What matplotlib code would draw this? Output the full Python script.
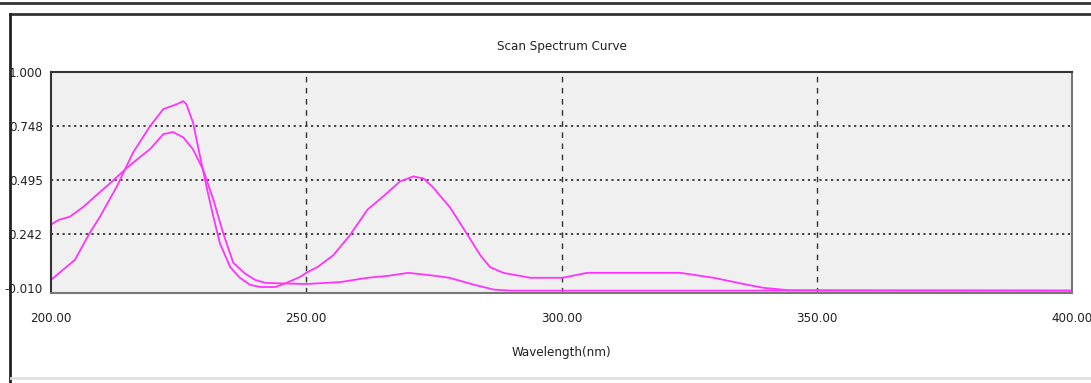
import matplotlib.pyplot as plt
from matplotlib.lines import Line2D

# scan A: broad band near 223 nm, low tail
wl_a = [200, 201.5, 203.7, 206.3, 209.6, 212, 214.5, 217, 219.4, 222, 223.9,
        225.9, 227.8, 229.8, 231.8, 233.7, 235.7, 238, 240, 242, 245, 250,
        256.7, 262, 266, 270, 275, 278, 282.5, 286.7, 290, 400]
abs_a = [0.288, 0.31, 0.325, 0.37, 0.44, 0.49, 0.545, 0.595, 0.64, 0.71, 0.72,
         0.695, 0.64, 0.545, 0.405, 0.25, 0.11, 0.06, 0.03, 0.016, 0.014, 0.011,
         0.02, 0.04, 0.049, 0.063, 0.05, 0.04, 0.01, -0.015, -0.02, -0.02]

# scan B: sharp band near 226 nm, second band near 271 nm
wl_b = [200, 202, 204.7, 207.6, 209.6, 212.9, 216.1, 219.4, 222, 224.7, 225.9,
        226.5, 227.8, 229.2, 230.6, 231.8, 233.1, 235.1, 237, 239, 241, 244,
        246, 248.8, 250, 252.2, 255.3, 258.6, 262, 265.1, 268.4, 271, 273,
        274.9, 278.2, 281.6, 284.1, 286, 288.6, 293.9, 300.2, 305, 323.3,
        329.8, 336.5, 339.6, 344.5, 400]
abs_b = [0.03, 0.07, 0.124, 0.25, 0.325, 0.466, 0.625, 0.747, 0.827, 0.85, 0.864,
         0.85, 0.766, 0.606, 0.45, 0.325, 0.2, 0.09, 0.04, 0.007, -0.003, -0.003,
         0.015, 0.044, 0.063, 0.09, 0.145, 0.24, 0.358, 0.42, 0.49, 0.513, 0.503,
         0.46, 0.367, 0.24, 0.145, 0.09, 0.063, 0.04, 0.04, 0.063, 0.063,
         0.04, 0.007, -0.007, -0.018, -0.02]

yticks = [1.000, 0.748, 0.495, 0.242, -0.010]
xticks = [200, 250, 300, 350, 400]

plt.rcParams['font.family'] = ['DejaVu Sans']
plt.rcParams['font.stretch'] = 'condensed'
fs = 9.5

fig = plt.figure(figsize=(10.91, 3.83), dpi=100)
ax = fig.add_axes([51/1091, 1 - 293/383, 1021/1091, 221/383])
ax.set_facecolor('#f0f0f0')

ax.plot(wl_a, abs_a, color='#ff33ff', lw=1.3)
ax.plot(wl_b, abs_b, color='#ff33ff', lw=1.3)

ax.set_xlim(200, 400)
ax.set_ylim(-0.031, 1.0)
ax.set_xticks(xticks)
ax.set_xticklabels(['%.2f' % v for v in xticks])
ax.set_yticks(yticks)
ax.set_yticklabels(['%.3f' % v for v in yticks])
ax.tick_params(length=0, labelsize=fs, colors='#222222')
ax.tick_params(axis='x', pad=14)
ax.tick_params(axis='y', pad=6)

for v in yticks[1:4]:
    ax.axhline(v, color='#333333', lw=1.3, linestyle=(0, (1.2, 2.0)), zorder=1)
for v in xticks[1:4]:
    ax.axvline(v, color='#333333', lw=1.0, linestyle=(0, (4, 4)), zorder=1)

for s in ['top', 'left']:
    ax.spines[s].set_color('#333333')
    ax.spines[s].set_linewidth(1.5)
for s in ['bottom', 'right']:
    ax.spines[s].set_color('#777777')
    ax.spines[s].set_linewidth(1.5)

ax.set_title('Scan Spectrum Curve', fontsize=fs, pad=16, color='#222222')
ax.set_xlabel('Wavelength(nm)', fontsize=fs, labelpad=15, color='#222222')

# window frame
W, H = 1091, 383
fig.add_artist(Line2D([0, 1], [1 - 3/H, 1 - 3/H], color='#333333', lw=2))
fig.add_artist(Line2D([10/W, 1], [1 - 14/H, 1 - 14/H], color='#333333', lw=2))
fig.add_artist(Line2D([10/W, 10/W], [0, 1 - 14/H], color='#222222', lw=2))
fig.add_artist(Line2D([11/W, 1], [1 - 378/H, 1 - 378/H], color='#e0e0e0', lw=2))

fig.savefig('out.png', dpi=100)
